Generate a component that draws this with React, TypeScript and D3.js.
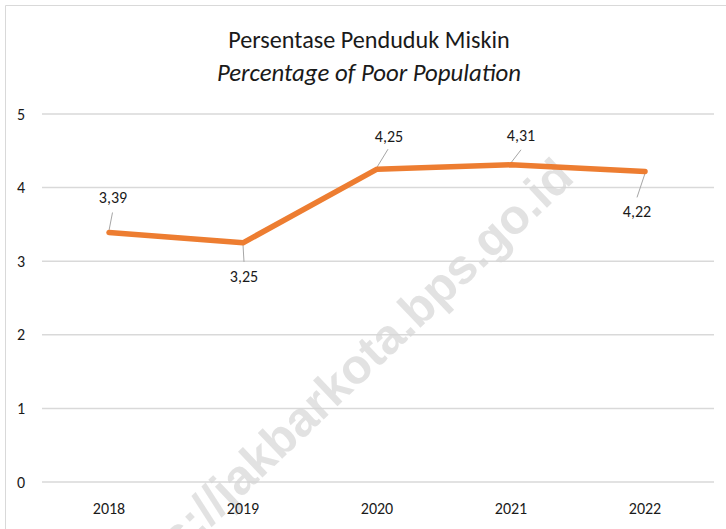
import React from "react";
import * as d3 from "d3";

const years = ["2018", "2019", "2020", "2021", "2022"];
const values = [3.39, 3.25, 4.25, 4.31, 4.22];
const labels = ["3,39", "3,25", "4,25", "4,31", "4,22"];
const yTicks = [0, 1, 2, 3, 4, 5];
const titleMain = "Persentase Penduduk Miskin";
const titleSub = "Percentage of Poor Population";
const watermark = "https://jakbarkota.bps.go.id";

// label placement offsets (relative to each point)
const labelOff = [
  [4, -35],
  [1, 34],
  [12, -33],
  [10, -29],
  [-8, 40],
];
const leaderOff = [
  [3.5, -20],
  [1, 19],
  [11, -20],
  [10, -15],
  [-8, 26],
];

const W = 726;
const H = 529;
const FONT = "Carlito, Lato, 'Liberation Sans', sans-serif";

export default function App() {
  const x = d3.scaleBand<string>().domain(years).range([42, 712]);
  const y = d3.scaleLinear().domain([0, 5]).range([482, 114]);
  const cx = (d: string) => (x(d) as number) + x.bandwidth() / 2;

  const line = d3
    .line<number>()
    .x((_, i) => cx(years[i]))
    .y((v) => y(v));

  return (
    <svg
      width={W}
      height={H}
      style={{ position: "absolute", left: 0, top: 0, background: "#fff" }}
      fontFamily={FONT}
    >
      <rect x={0} y={0} width={W} height={H} fill="#fff" />
      <path d={`M5.5,${H} V5.5 H${W}`} fill="none" stroke="#d9d9d9" strokeWidth={1} />

      {yTicks.map((t) => (
        <line key={t} x1={42} x2={714} y1={y(t)} y2={y(t)} stroke="#d9d9d9" strokeWidth={1.5} />
      ))}
      {yTicks.map((t) => (
        <text
          key={"yl" + t}
          x={21}
          y={y(t)}
          dy="0.35em"
          textAnchor="middle"
          fontSize={16}
          fill="#1a1a1a"
        >
          {t}
        </text>
      ))}

      <text
        transform="translate(576,180) rotate(-43.5)"
        textAnchor="end"
        fontFamily="'Liberation Sans', Arial, sans-serif"
        fontWeight="bold"
        fontSize={49}
        fill="#d6d6d6"
        fillOpacity={0.7}
      >
        {watermark}
      </text>

      {years.map((yr) => (
        <text
          key={"xl" + yr}
          x={cx(yr)}
          y={508}
          dy="0.35em"
          textAnchor="middle"
          fontSize={16}
          fill="#1a1a1a"
        >
          {yr}
        </text>
      ))}

      {values.map((v, i) => {
        const px = cx(years[i]);
        const py = y(v);
        const s = Math.sign(leaderOff[i][1]);
        return (
          <line
            key={"ld" + i}
            x1={px}
            y1={py + s * 2}
            x2={px + leaderOff[i][0]}
            y2={py + leaderOff[i][1]}
            stroke="#a6a6a6"
            strokeWidth={1}
          />
        );
      })}

      <path
        d={line(values) || ""}
        fill="none"
        stroke="#ed7d31"
        strokeWidth={5.5}
        strokeLinecap="round"
        strokeLinejoin="round"
      />

      {values.map((v, i) => (
        <text
          key={"dl" + i}
          x={cx(years[i]) + labelOff[i][0]}
          y={y(v) + labelOff[i][1]}
          dy="0.35em"
          textAnchor="middle"
          fontSize={16}
          fill="#1a1a1a"
        >
          {labels[i]}
        </text>
      ))}

      <text x={369} y={40} dy="0.35em" textAnchor="middle" fontSize={24.2} fill="#1a1a1a">
        {titleMain}
      </text>
      <text
        x={369}
        y={72}
        dy="0.35em"
        textAnchor="middle"
        fontSize={24.8}
        fontStyle="italic"
        fill="#1a1a1a"
      >
        {titleSub}
      </text>
    </svg>
  );
}
